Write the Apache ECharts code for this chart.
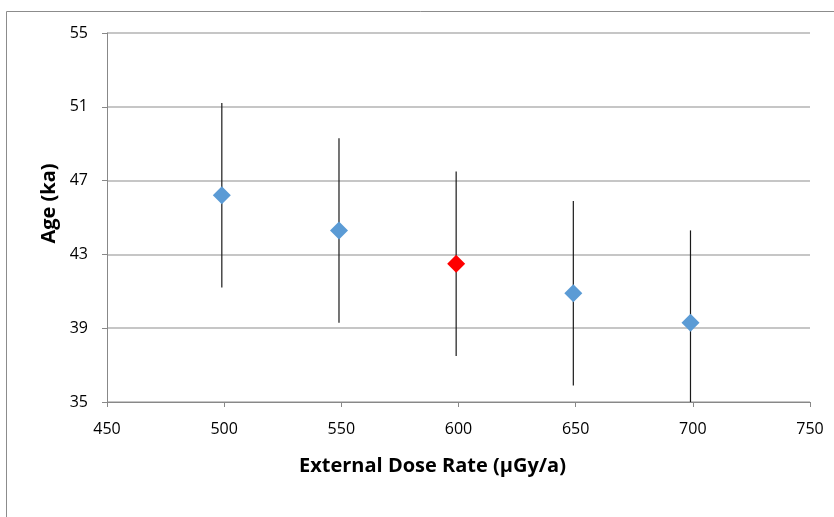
<!DOCTYPE html>
<html>
<head>
<meta charset="utf-8">
<script src="https://cdn.jsdelivr.net/npm/echarts@6/dist/echarts.min.js"></script>
<style>
  html, body { margin: 0; padding: 0; background: #fff; }
</style>
</head>
<body>
<div id="graph" style="width: 834px; height: 517px;"></div>
<script>
// dose rate (µGy/a), age (ka) and error (ka)
const doseRate = [499, 549, 599, 649, 699]
const age = [46.2, 44.3, 42.5, 40.9, 39.3]
const ageErr = [5.0, 5.0, 5.0, 5.0, 5.0]
// which point is highlighted in red
const highlight = [false, false, true, false, false]

let chart = echarts.init(document.getElementById('graph'))
const font = 'Open Sans, Liberation Sans, sans-serif'

let points = doseRate.map((x, i) => ({
  value: [x, age[i]],
  itemStyle: { color: highlight[i] ? '#ff0000' : '#5b9bd5' }
}))
let bars = doseRate.map((x, i) => [x, age[i] - ageErr[i], age[i] + ageErr[i]])

chart.setOption({
  animation: false,
  backgroundColor: '#fff',
  graphic: [{
    type: 'rect',
    shape: { x: 6.5, y: 11.5, width: 900, height: 600 },
    style: { fill: 'none', stroke: '#8c8c8c', lineWidth: 1 },
    silent: true
  }],
  grid: { left: 107, top: 33, right: 24, bottom: 115 },
  xAxis: {
    type: 'value',
    min: 450,
    max: 750,
    interval: 50,
    name: 'External Dose Rate (µGy/a)',
    nameLocation: 'middle',
    nameGap: 54,
    // title sits a bit left of the plot centre, as in the original
    nameTextStyle: { fontFamily: font, fontSize: 20, fontWeight: 'bold', color: '#000', padding: [0, 52, 0, 0] },
    axisLine: { lineStyle: { color: '#888', width: 1 } },
    axisTick: { show: true, length: 5, lineStyle: { color: '#888' } },
    axisLabel: { fontFamily: font, fontSize: 16, color: '#000', margin: 19 },
    splitLine: { show: false }
  },
  yAxis: {
    type: 'value',
    min: 35,
    max: 55,
    interval: 4,
    name: 'Age (ka)',
    nameLocation: 'middle',
    nameGap: 48,
    nameRotate: 90,
    nameTextStyle: { fontFamily: font, fontSize: 20, fontWeight: 'bold', color: '#000', padding: [0, 0, 0, 28] },
    axisLine: { show: true, lineStyle: { color: '#888', width: 1 } },
    axisTick: { show: true, length: 5, lineStyle: { color: '#888' } },
    axisLabel: { fontFamily: font, fontSize: 16, color: '#000', margin: 19 },
    splitLine: { lineStyle: { color: '#b3b3b3', width: 1.5 } }
  },
  series: [
    {
      type: 'custom',
      clip: true,
      z: 1,
      data: bars,
      renderItem: (params, api) => {
        let lo = api.coord([api.value(0), api.value(1)])
        let hi = api.coord([api.value(0), api.value(2)])
        return {
          type: 'line',
          shape: { x1: lo[0], y1: lo[1], x2: hi[0], y2: hi[1] },
          style: { stroke: '#1a1a1a', lineWidth: 1.2 }
        }
      }
    },
    {
      type: 'scatter',
      z: 3,
      symbol: 'diamond',
      symbolSize: [18, 18],
      itemStyle: { opacity: 1 },
      data: points
    }
  ]
})
</script>
</body>
</html>
